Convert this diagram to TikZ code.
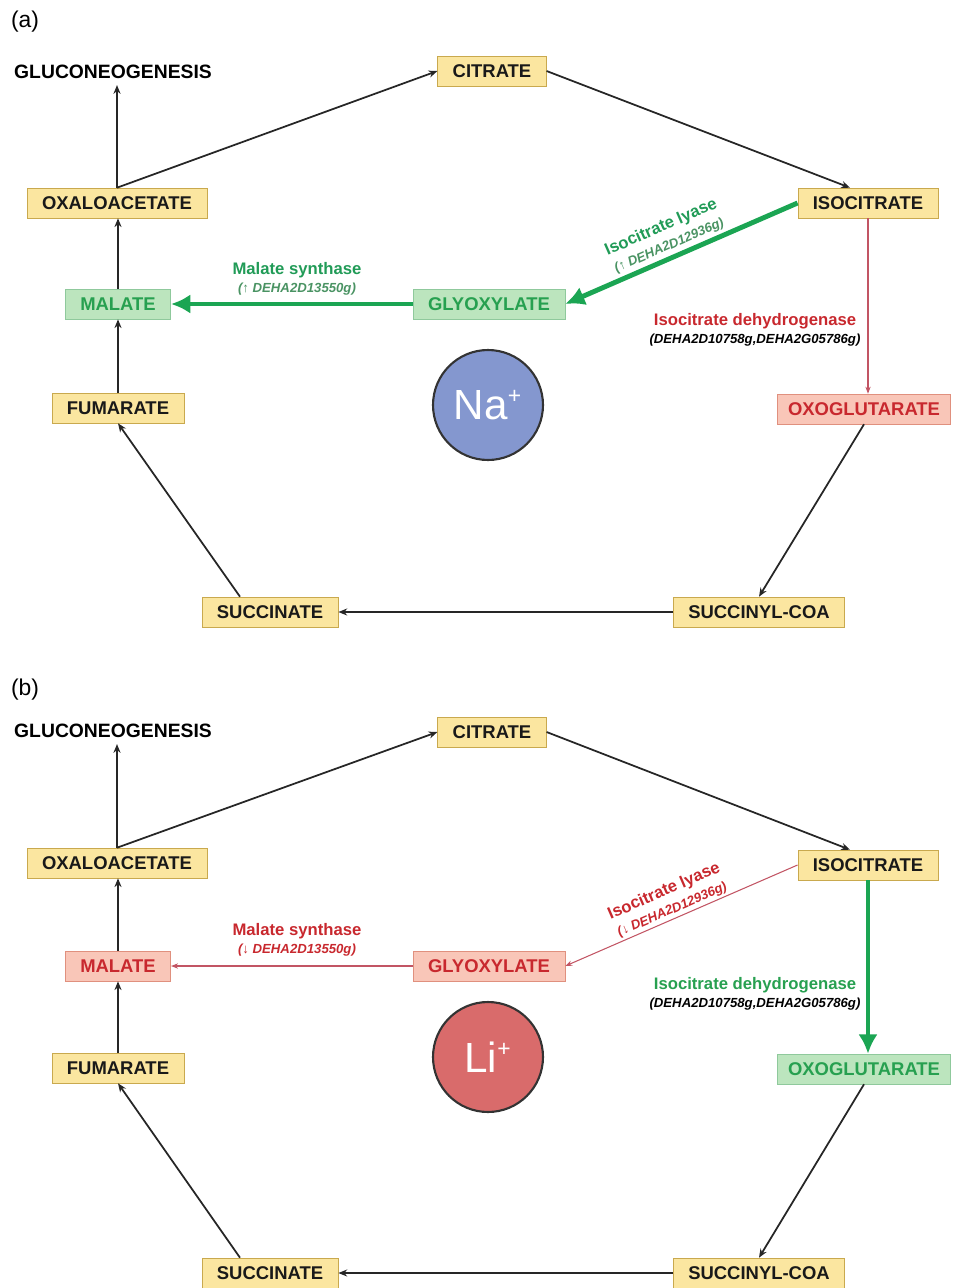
\documentclass[tikz,border=0pt]{standalone}
\usepackage{fontspec}
\setmainfont{Liberation Sans}
\usepackage{tikz}
\usetikzlibrary{arrows.meta,shapes}

\definecolor{yfill}{HTML}{FBE6A0}
\definecolor{yline}{HTML}{C9A94E}
\definecolor{gfill}{HTML}{BCE5BE}
\definecolor{gline}{HTML}{8FC99C}
\definecolor{gtext}{HTML}{27A050}
\definecolor{rfill}{HTML}{F9C6B8}
\definecolor{rline}{HTML}{E0907E}
\definecolor{rtext}{HTML}{C8282E}
\definecolor{upgreen}{HTML}{1BA553}
\definecolor{downred}{HTML}{C25564}
\definecolor{nablue}{HTML}{8497CF}
\definecolor{lired}{HTML}{D96B6B}

\newcommand{\genetxt}[1]{{\bfseries\itshape\fontsize{7.5}{9}\selectfont #1}}

\begin{document}
\begin{tikzpicture}[x=0.02cm,y=-0.02cm]

	\tikzset{met/.style = {shape=rectangle,draw=yline,fill=yfill,text=black!90,font=\bfseries\fontsize{10.5}{12}\selectfont,minimum height=17pt,inner xsep=8.5pt}}
	\tikzset{metup/.style = {met,draw=gline,fill=gfill,text=gtext}}
	\tikzset{metdown/.style = {met,draw=rline,fill=rfill,text=rtext}}
	\tikzset{ion/.style = {shape=circle,draw=black!80,line width=1.2pt,minimum size=2.2cm,text=white,font=\fontsize{24}{26}\selectfont}}
	\tikzset{enz/.style = {align=center,font=\bfseries\fontsize{9.5}{10}\selectfont}}
	\tikzset{edge/.style = {draw=black!85,line width=1pt,-{Stealth[length=5pt,width=4pt]}}}
	\tikzset{upedge/.style = {draw=upgreen,line width=2.8pt,-{Latex[length=11pt,width=11pt]}}}
	\tikzset{downedge/.style = {draw=downred,line width=0.6pt,-{Stealth[length=4pt,width=3pt]}}}

	\useasboundingbox (0,0) rectangle (954,1288);

	% panel (a), Na+
	\node (pa) at (25,22) {\fontsize{13}{15}\selectfont (a)};
	\node[font=\bfseries\fontsize{11}{13}\selectfont] (glu1) at (113,72) {GLUCONEOGENESIS};
	\node[met] (cit1) at (492,71) {CITRATE};
	\node[met] (oxa1) at (117,203) {OXALOACETATE};
	\node[met] (iso1) at (868,203) {ISOCITRATE};
	\node[metup] (mal1) at (118,304) {MALATE};
	\node[metup] (gly1) at (489,304) {GLYOXYLATE};
	\node[met] (fum1) at (118,408) {FUMARATE};
	\node[metdown,inner xsep=6pt] (oxo1) at (864,409) {OXOGLUTARATE};
	\node[met] (suc1) at (270,612) {SUCCINATE};
	\node[met] (sco1) at (759,612) {SUCCINYL-COA};
	\node[ion,fill=nablue] (na) at (488,405) {Na\textsuperscript{\fontsize{13}{13}\selectfont +}};

	\node[enz,text=gtext!85!teal] (ms1) at (297,279) {Malate synthase\\\genetxt{\textcolor{gtext!60!gray}{(↑ DEHA2D13550g)}}};
	\node[enz,text=gtext!85!teal,rotate=23.6] (il1) at (665,236) {Isocitrate lyase\\[1pt]\genetxt{\textcolor{gtext!60!gray}{(↑ DEHA2D12936g)}}};
	\node[enz,text=rtext] (idh1) at (755,330) {Isocitrate dehydrogenase\\\genetxt{\textcolor{black}{(DEHA2D10758g,DEHA2G05786g)}}};

	\draw[edge] (oxa1.north) to (oxa1.north |- glu1.south);
	\draw[edge] (oxa1.north) to (cit1.west);
	\draw[edge] (cit1.east) to ([xshift=-0.36cm]iso1.north);
	\draw[upedge] (iso1.west) to (gly1.east);
	\draw[upedge] (gly1.west) to (mal1.east);
	\draw[edge] (mal1.north) to (mal1.north |- oxa1.south);
	\draw[downedge] (iso1.south) to (iso1.south |- oxo1.north);
	\draw[edge] (oxo1.south) to (sco1.north);
	\draw[edge] (sco1) to (suc1);
	\draw[edge] ([xshift=-0.6cm]suc1.north) to (fum1.south);
	\draw[edge] (fum1.north) to (fum1.north |- mal1.south);

	% panel (b), Li+
	\node (pb) at (25,690) {\fontsize{13}{15}\selectfont (b)};
	\node[font=\bfseries\fontsize{11}{13}\selectfont] (glu2) at (113,731) {GLUCONEOGENESIS};
	\node[met] (cit2) at (492,732) {CITRATE};
	\node[met] (oxa2) at (117,863) {OXALOACETATE};
	\node[met] (iso2) at (868,865) {ISOCITRATE};
	\node[metdown] (mal2) at (118,966) {MALATE};
	\node[metdown] (gly2) at (489,966) {GLYOXYLATE};
	\node[met] (fum2) at (118,1068) {FUMARATE};
	\node[metup,inner xsep=6pt] (oxo2) at (864,1069) {OXOGLUTARATE};
	\node[met] (suc2) at (270,1273) {SUCCINATE};
	\node[met] (sco2) at (759,1273) {SUCCINYL-COA};
	\node[ion,fill=lired] (li) at (488,1057) {Li\textsuperscript{\fontsize{13}{13}\selectfont +}};

	\node[enz,text=rtext] (ms2) at (297,940) {Malate synthase\\\genetxt{(↓ DEHA2D13550g)}};
	\node[enz,text=rtext,rotate=23.6] (il2) at (668,900) {Isocitrate lyase\\[1pt]\genetxt{(↓ DEHA2D12936g)}};
	\node[enz,text=gtext] (idh2) at (755,994) {Isocitrate dehydrogenase\\\genetxt{\textcolor{black}{(DEHA2D10758g,DEHA2G05786g)}}};

	\draw[edge] (oxa2.north) to (oxa2.north |- glu2.south);
	\draw[edge] (oxa2.north) to (cit2.west);
	\draw[edge] (cit2.east) to ([xshift=-0.36cm]iso2.north);
	\draw[downedge] (iso2.west) to (gly2.east);
	\draw[downedge] (gly2.west) to (mal2.east);
	\draw[edge] (mal2.north) to (mal2.north |- oxa2.south);
	\draw[upedge] (iso2.south) to (iso2.south |- oxo2.north);
	\draw[edge] (oxo2.south) to (sco2.north);
	\draw[edge] (sco2) to (suc2);
	\draw[edge] ([xshift=-0.6cm]suc2.north) to (fum2.south);
	\draw[edge] (fum2.north) to (fum2.north |- mal2.south);

\end{tikzpicture}
\end{document}
